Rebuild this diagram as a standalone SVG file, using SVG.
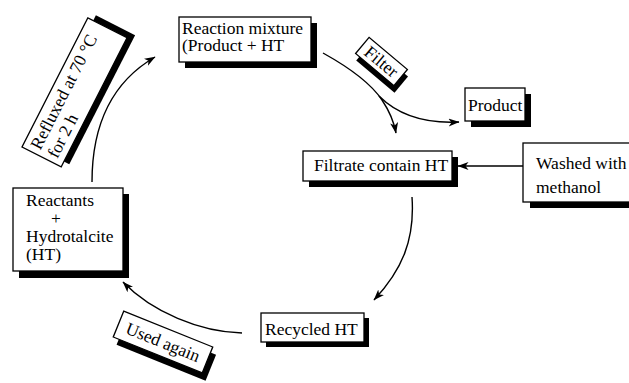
<svg xmlns="http://www.w3.org/2000/svg" width="629" height="383" viewBox="0 0 629 383">
<style>
.box{fill:#fff;stroke:#000;stroke-width:1.3}
.sh{fill:#000}
.t{font-family:"Liberation Serif","Times New Roman",serif;font-size:17.5px;fill:#000}
.c{fill:none;stroke:#000;stroke-width:1.4}
</style>
<defs>
<marker id="ah" markerUnits="userSpaceOnUse" markerWidth="12" markerHeight="9" refX="10.5" refY="4" orient="auto">
<path d="M0,0 L11,4 L0,8 L3,4 z" fill="#000"/>
</marker>
</defs>
<rect width="629" height="383" fill="#fff"/>
<g id="connectors">
<path class="c" d="M92,182 C92,125 112,82 155,57" marker-end="url(#ah)"/>
<path class="c" d="M323,53 C350,68 372,85 382,100 C390,112 394,122 396,133" marker-end="url(#ah)"/>
<path class="c" d="M379,96 C396,113 420,124 459,122" marker-end="url(#ah)"/>
<path class="c" d="M523,166 L458,166" marker-end="url(#ah)"/>
<path class="c" d="M412,197 C415,240 402,270 374,300" marker-end="url(#ah)"/>
<path class="c" d="M242,333 C200,332 152,312 123,282" marker-end="url(#ah)"/>
</g>
<g id="reaction-mixture">
<rect class="sh" x="185" y="23" width="132" height="45"/>
<rect class="box" x="179" y="17" width="132" height="45"/>
<text class="t" x="182" y="33.5">Reaction mixture</text>
<text class="t" x="182" y="50.5">(Product + HT</text>
</g>
<g id="refluxed" transform="translate(22,147) rotate(-63)">
<rect class="sh" x="6" y="6" width="145" height="44"/>
<rect class="box" x="0" y="0" width="145" height="44"/>
<text class="t" x="5" y="18">Refluxed at 70 °C</text>
<text class="t" x="5" y="37">for 2 h</text>
</g>
<g id="filter" transform="translate(381.5,61.5) rotate(40)">
<rect class="sh" x="-20" y="-5.5" width="50" height="21"/>
<rect class="box" x="-25" y="-10.5" width="50" height="21"/>
<text class="t" x="0" y="6" text-anchor="middle">Filter</text>
</g>
<g id="product">
<rect class="sh" x="471" y="94" width="60" height="33"/>
<rect class="box" x="465" y="88" width="60" height="33"/>
<text class="t" x="468" y="111">Product</text>
</g>
<g id="filtrate">
<rect class="sh" x="309" y="157" width="149" height="30"/>
<rect class="box" x="303" y="151" width="149" height="30"/>
<text class="t" x="314" y="171">Filtrate contain HT</text>
</g>
<g id="washed">
<rect class="sh" x="530" y="149" width="110" height="59"/>
<rect class="box" x="523" y="143" width="117" height="59"/>
<text class="t" x="536" y="169">Washed with</text>
<text class="t" x="536" y="193">methanol</text>
</g>
<g id="reactants">
<rect class="sh" x="19" y="194" width="110" height="84"/>
<rect class="box" x="13" y="188" width="110" height="83"/>
<text class="t" x="26" y="206">Reactants</text>
<text class="t" x="51" y="224">+</text>
<text class="t" x="26" y="242">Hydrotalcite</text>
<text class="t" x="26" y="260">(HT)</text>
</g>
<g id="recycled">
<rect class="sh" x="266" y="318" width="103" height="29"/>
<rect class="box" x="261" y="313" width="103" height="29"/>
<text class="t" x="265" y="335">Recycled HT</text>
</g>
<g id="used-again" transform="translate(163,342) rotate(22)">
<rect class="sh" x="-42" y="-8" width="96" height="28"/>
<rect class="box" x="-48" y="-14" width="96" height="28"/>
<text class="t" x="0" y="6" text-anchor="middle">Used again</text>
</g>
</svg>
